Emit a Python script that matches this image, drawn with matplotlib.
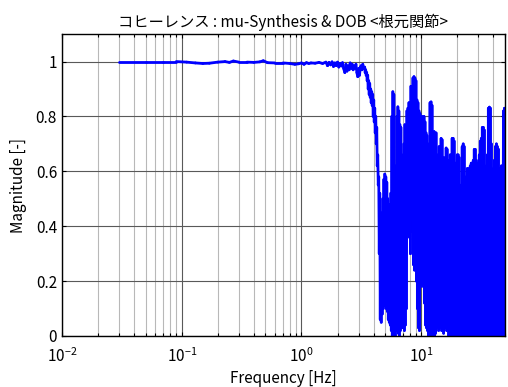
import numpy as np
import matplotlib
matplotlib.use("Agg")
import matplotlib.pyplot as plt
from matplotlib.collections import LineCollection
from matplotlib.ticker import LogLocator

plt.rcParams['font.family'] = ['Noto Sans CJK JP', 'DejaVu Sans']
plt.rcParams['mathtext.fontset'] = 'dejavusans'

# Coherence, low-frequency part (Hz, magnitude)
freq_low = [0.03, 0.05, 0.07, 0.09, 0.11, 0.13, 0.15, 0.17, 0.20, 0.23, 0.25,
            0.27, 0.30, 0.35, 0.40, 0.45, 0.48, 0.52, 0.60, 0.70, 0.80, 0.88,
            0.95, 1.00, 1.05, 1.10, 1.15, 1.20, 1.30, 1.40, 1.50, 1.60, 1.65,
            1.70, 1.75, 1.80, 1.85, 1.90, 1.95, 2.00, 2.05, 2.10, 2.15, 2.20,
            2.25, 2.30, 2.35, 2.40, 2.45, 2.50, 2.55, 2.60, 2.65, 2.70, 2.75,
            2.80, 2.85, 2.90, 2.95, 3.00, 3.05, 3.10, 3.15, 3.20, 3.25, 3.30]
mag_low = [1.000, 1.000, 1.000, 1.000, 0.998, 0.995, 0.993, 0.994, 0.998, 1.000, 0.997,
           1.002, 0.998, 0.998, 0.997, 0.999, 1.003, 0.996, 0.995, 0.995, 0.993, 0.990,
           0.992, 0.995, 0.990, 0.996, 0.993, 0.995, 0.994, 0.997, 0.993, 0.998, 0.985,
           0.997, 0.988, 0.999, 0.982, 0.995, 0.985, 0.998, 0.980, 0.993, 0.984, 0.996,
           0.975, 0.960, 0.990, 0.965, 0.985, 0.970, 0.995, 0.975, 0.990, 0.970, 0.985,
           0.975, 0.990, 0.960, 0.945, 0.975, 0.950, 0.980, 0.985, 0.970, 0.990, 0.975]

# Coherence above 3.37 Hz: local maxima / minima of consecutive bins
mag_hi = [0.98, 0.97, 0.96, 0.95, 0.93, 0.92, 0.90, 0.89, 0.88, 0.86,
          0.83, 0.80, 0.76, 0.66, 0.58, 0.52, 0.45, 0.40, 0.50, 0.57,
          0.59, 0.58, 0.56, 0.50, 0.48, 0.45, 0.52, 0.80, 0.89, 0.88,
          0.50, 0.62, 0.80, 0.835, 0.82, 0.77, 0.76, 0.66, 0.64, 0.70,
          0.77, 0.76, 0.82, 0.83, 0.85, 0.85, 0.91, 0.90, 0.94, 0.945,
          0.94, 0.93, 0.86, 0.85, 0.82, 0.81, 0.75, 0.80, 0.79, 0.80,
          0.78, 0.74, 0.73, 0.62, 0.70, 0.85, 0.853, 0.84, 0.70, 0.745,
          0.74, 0.74, 0.66, 0.65, 0.69, 0.69, 0.72, 0.715, 0.65, 0.64,
          0.65, 0.685, 0.68, 0.62, 0.64, 0.66, 0.66, 0.72, 0.72, 0.71,
          0.63, 0.62, 0.66, 0.66, 0.65, 0.54, 0.55, 0.69, 0.70, 0.69,
          0.57, 0.58, 0.61, 0.61, 0.60, 0.62, 0.63, 0.62, 0.64, 0.68,
          0.68, 0.64, 0.63, 0.58, 0.66, 0.71, 0.72, 0.76, 0.76, 0.75,
          0.61, 0.62, 0.66, 0.83, 0.834, 0.83, 0.70, 0.60, 0.61, 0.64,
          0.69, 0.70, 0.69, 0.68, 0.61, 0.60, 0.62, 0.60, 0.82, 0.83]
mag_lo = [0.96, 0.95, 0.93, 0.90, 0.88, 0.87, 0.85, 0.84, 0.80, 0.78,
          0.74, 0.70, 0.62, 0.55, 0.30, 0.06, 0.05, 0.08, 0.10, 0.11,
          0.12, 0.10, 0.09, 0.06, 0.05, 0.04, 0.02, 0.00, 0.00, 0.01,
          0.00, 0.02, 0.03, 0.01, 0.00, 0.02, 0.03, 0.03, 0.03, 0.02,
          0.04, 0.10, 0.38, 0.40, 0.36, 0.30, 0.42, 0.38, 0.26, 0.24,
          0.25, 0.20, 0.10, 0.03, 0.02, 0.18, 0.20, 0.19, 0.18, 0.12,
          0.04, 0.03, 0.02, 0.00, 0.01, 0.00, 0.02, 0.00, 0.01, 0.00,
          0.01, 0.03, 0.04, 0.02, 0.03, 0.04, 0.02, 0.03, 0.01, 0.04,
          0.03, 0.02, 0.04, 0.00, 0.01, 0.00, 0.02, 0.00, 0.01, 0.00,
          0.00, 0.01, 0.00, 0.02, 0.00, 0.01, 0.00, 0.00, 0.01, 0.00,
          0.02, 0.00, 0.01, 0.00, 0.00, 0.01, 0.00, 0.02, 0.00, 0.00,
          0.01, 0.00, 0.00, 0.02, 0.00, 0.01, 0.00, 0.00, 0.01, 0.00,
          0.00, 0.02, 0.00, 0.00, 0.01, 0.00, 0.00, 0.01, 0.00, 0.00,
          0.01, 0.00, 0.00, 0.02, 0.00, 0.00, 0.01, 0.00, 0.00, 0.00]

# interleave maxima and minima on a log-spaced bin grid up to 50 Hz
n_bins = len(mag_hi)
freq_high = np.geomspace(3.37, 50.0, 2 * n_bins)
mag_high = np.empty(2 * n_bins)
mag_high[0::2] = mag_hi
mag_high[1::2] = mag_lo

freq = np.concatenate([freq_low, freq_high])
mag = np.concatenate([mag_low, mag_high])

fig = plt.figure(figsize=(5.08, 3.87), dpi=100)
ax = fig.add_axes([0.122, 0.1318, 0.872, 0.780])
ax.set_xscale('log')

# draw the trace as individual segments so overlapping up/down strokes stay solid
pts = np.column_stack([freq, mag])
segments = np.stack([pts[:-1], pts[1:]], axis=1)
trace = LineCollection(segments, colors=[(0, 0, 1)], linewidths=2.0,
                       capstyle='round', zorder=3)
ax.add_collection(trace)

ax.set_xlim(0.01, 50)
ax.set_ylim(0, 1.1)
ax.xaxis.set_major_locator(LogLocator(base=10, numticks=10))
ax.xaxis.set_minor_locator(LogLocator(base=10, subs=np.arange(2, 10), numticks=20))
ax.set_yticks([0, 0.2, 0.4, 0.6, 0.8, 1.0])
ax.set_yticklabels(['0', '0.2', '0.4', '0.6', '0.8', '1'])

ax.grid(True, which='major', color='0.35', lw=0.8)
ax.grid(True, which='minor', axis='x', color='0.72', lw=0.8)
ax.set_axisbelow(True)

ax.tick_params(which='both', direction='in', top=True, right=True,
               labelsize=11, length=3, width=0.8)
ax.tick_params(axis='x', which='major', pad=8)
ax.tick_params(which='minor', length=2)
for s in ax.spines.values():
    s.set_linewidth(1.0)
    s.set_zorder(4)

ax.set_title('コヒーレンス : mu-Synthesis & DOB <根元関節>', fontsize=11, pad=5)
ax.set_xlabel('Frequency [Hz]', fontsize=11, labelpad=3)
ax.set_ylabel('Magnitude [-]', fontsize=11, labelpad=6)

fig.savefig('out.png', dpi=100)
